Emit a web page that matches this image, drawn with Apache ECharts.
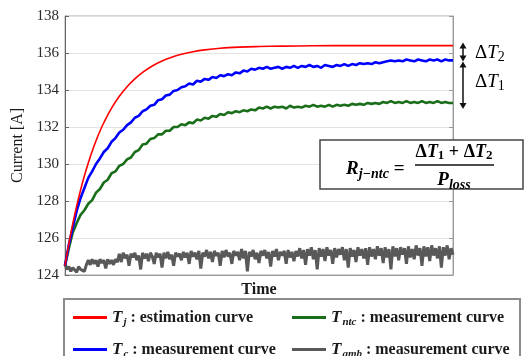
<!DOCTYPE html>
<html><head><meta charset="utf-8">
<script src="https://cdn.jsdelivr.net/npm/echarts@6/dist/echarts.min.js"></script>
<style>html,body{margin:0;padding:0;background:#fff}#c{width:525px;height:356px}</style>
</head><body><div id="c"></div>
<script>
// ---- data ----
const yMin = 124, yMax = 138, yStep = 2;
const timeMax = 1000;
// Tj estimation curve: [time, current]
const tjTime = [0,10,20,30,40,50,60,70,80,90,100,120,140,160,180,200,225,250,275,300,330,360,400,450,500,560,640,750,1000];
const tjValues = [124.5,125.69,126.76,127.72,128.58,129.36,130.06,130.69,131.26,131.77,132.23,133.02,133.66,134.18,134.6,134.95,135.3,135.57,135.77,135.93,136.07,136.17,136.26,136.32,136.35,136.37,136.39,136.4,136.4];
// Tc measurement (uniform samples over time)
const tcValues = [124.5,125.65,126.55,127.45,128.15,128.7,129.25,129.6,130.0,130.3,130.65,130.85,131.2,131.4,131.7,131.85,132.1,132.25,132.5,132.6,132.85,132.95,133.15,133.2,133.45,133.5,133.7,133.75,133.95,134.0,134.15,134.2,134.35,134.3,134.5,134.45,134.6,134.55,134.7,134.65,134.8,134.75,134.85,134.8,134.95,134.9,135.05,135.0,135.15,135.1,135.2,135.15,135.25,135.15,135.2,135.25,135.15,135.25,135.2,135.3,135.2,135.3,135.25,135.35,135.25,135.3,135.2,135.35,135.3,135.25,135.35,135.3,135.4,135.3,135.4,135.35,135.45,135.4,135.45,135.4,135.5,135.45,135.5,135.55,135.6,135.55,135.6,135.55,135.65,135.6,135.55,135.65,135.6,135.55,135.65,135.6,135.65,135.55,135.65,135.6,135.6];
// Tntc measurement
const tntcValues = [124.5,125.45,126.3,126.8,127.25,127.5,127.85,128.05,128.45,128.65,129.0,129.15,129.5,129.6,129.9,130.0,130.25,130.35,130.65,130.75,131.05,131.1,131.35,131.4,131.6,131.6,131.8,131.8,132.0,132.0,132.15,132.1,132.25,132.2,132.4,132.35,132.5,132.45,132.6,132.55,132.7,132.65,132.8,132.75,132.85,132.8,132.9,132.85,132.95,132.9,133.05,133.0,133.1,133.0,133.1,133.05,133.1,133.0,133.15,133.05,133.1,133.05,133.15,133.1,133.2,133.1,133.15,133.1,133.2,133.1,133.2,133.15,133.2,133.15,133.25,133.2,133.25,133.2,133.3,133.25,133.3,133.25,133.35,133.3,133.4,133.3,133.35,133.3,133.4,133.3,133.35,133.3,133.4,133.3,133.35,133.3,133.4,133.3,133.35,133.3,133.3];
// Tamb measurement
const tambValues = [124.6,124.3,124.45,124.2,124.4,124.3,124.15,124.45,124.3,124.4,124.2,124.55,
124.8,124.55,124.85,124.6,124.8,124.45,124.85,124.65,124.8,124.35,124.85,124.6,124.8,124.55,124.85,124.7,
125.15,124.7,125.2,124.9,125.1,124.5,125.15,124.95,125.2,124.8,125.05,124.3,125.2,124.9,125.15,124.75,125.2,125.0,124.6,125.2,124.95,125.15,124.4,125.2,124.9,125.25,124.85,125.1,124.5,125.2,125.0,125.15,124.8,
125.25,124.95,125.2,124.6,125.3,125.0,125.2,124.85,125.3,124.35,125.2,125.0,125.35,124.9,125.25,124.7,125.3,125.05,125.2,124.5,125.3,124.95,125.35,125.0,125.2,124.6,125.3,125.05,125.25,124.8,125.4,124.9,125.3,124.2,125.25,125.0,125.35,124.85,125.2,124.65,125.3,125.05,125.35,124.9,125.25,124.45,125.3,125.0,125.4,124.8,125.25,125.05,125.3,124.6,125.35,124.95,125.25,124.75,125.3,125.0,
125.45,124.9,125.35,124.55,125.4,125.05,125.5,124.85,125.35,124.3,125.45,125.0,125.4,124.75,125.5,125.05,125.35,124.6,125.45,124.95,125.4,125.1,125.5,124.8,125.4,124.4,125.45,125.0,125.35,124.7,125.5,125.05,125.4,124.9,125.45,124.55,125.5,125.0,125.4,124.85,125.55,125.05,125.45,124.65,125.5,124.95,125.4,124.3,125.55,125.0,125.45,124.8,125.5,125.1,125.45,124.6,125.55,124.95,125.4,124.85,125.6,125.05,125.45,124.5,125.55,125.0,125.5,124.75,125.6,125.05,125.45,124.9,125.55,124.4,125.5,125.05,125.6,124.85,125.45,125.1];
const legendSub = {Tj:'j', Tc:'c', Tntc:'ntc', Tamb:'amb'};
const legendDesc = {Tj:' : estimation curve', Tc:' : measurement curve', Tntc:' : measurement curve', Tamb:' : measurement curve'};
const colors = {Tj:'#ff0000', Tc:'#0000ff', Tntc:'#1a6e1a', Tamb:'#595959'};

function uniform(vals){ const st = timeMax/(vals.length-1); return vals.map((v,i)=>[i*st, v]); }
const tjData = tjTime.map((t,i)=>[t, tjValues[i]]);

const SERIF = 'Liberation Serif';
const chart = echarts.init(document.getElementById('c'), null, {renderer:'canvas'});

const richLegend = {
  v:{fontFamily:SERIF, fontStyle:'italic', fontWeight:'bold', fontSize:17, color:'#1a1a1a'},
  s:{fontFamily:SERIF, fontStyle:'italic', fontWeight:'bold', fontSize:11, color:'#1a1a1a', padding:[9,0,0,1]},
  d:{fontFamily:SERIF, fontWeight:'bold', fontSize:16, color:'#1a1a1a'}
};
function mkLegend(name, left, top){
  return {data:[name], left:left, top:top, padding:0, icon:'rect', itemWidth:34, itemHeight:3, itemGap:6,
    formatter: n => '{v|T}{s|' + legendSub[n] + '}{d|' + legendDesc[n] + '}',
    textStyle:{rich:richLegend}, selectedMode:false};
}

chart.setOption({
  animation:false,
  backgroundColor:'#fff',
  grid:{left:65, right:72, top:16, bottom:81, show:true, borderColor:'#a6a6a6', borderWidth:1},
  xAxis:{type:'value', min:0, max:timeMax, name:'Time', nameLocation:'middle', nameGap:7,
    nameTextStyle:{fontFamily:SERIF, fontWeight:'bold', fontSize:16, color:'#1a1a1a', verticalAlign:'top'},
    axisLabel:{show:false}, axisTick:{show:false}, splitLine:{show:false},
    axisLine:{lineStyle:{color:'#9a9a9a'}}},
  yAxis:[{type:'value', min:yMin, max:yMax, interval:yStep, name:'Current [A]', nameLocation:'middle', nameGap:37,
    nameTextStyle:{fontFamily:SERIF, fontSize:16, color:'#1a1a1a'},
    axisLabel:{fontFamily:SERIF, fontSize:15, color:'#2a2a2a', margin:6},
    axisLine:{show:true, lineStyle:{color:'#666'}}, axisTick:{show:true, inside:true, length:4, lineStyle:{color:'#666'}},
    splitLine:{lineStyle:{color:'#e3e3e3'}}},
   {type:'value', min:yMin, max:yMax, interval:yStep, position:'right', axisLabel:{show:false},
    axisLine:{show:true, lineStyle:{color:'#9a9a9a'}}, axisTick:{show:true, inside:true, length:4, lineStyle:{color:'#9a9a9a'}},
    splitLine:{show:false}}],
  legend:[mkLegend('Tj',73,309), mkLegend('Tntc',292,309), mkLegend('Tc',73,341), mkLegend('Tamb',292,341)],
  series:[
    {name:'Tamb', type:'line', data:uniform(tambValues), symbol:'none', lineStyle:{color:colors.Tamb, width:3}, itemStyle:{color:colors.Tamb}, z:2},
    {name:'Tntc', type:'line', data:uniform(tntcValues), symbol:'none', lineStyle:{color:colors.Tntc, width:2.6}, itemStyle:{color:colors.Tntc}, z:3},
    {name:'Tc', type:'line', data:uniform(tcValues), symbol:'none', lineStyle:{color:colors.Tc, width:2.6}, itemStyle:{color:colors.Tc}, z:4},
    {name:'Tj', type:'line', data:tjData, symbol:'none', smooth:0.4, lineStyle:{color:colors.Tj, width:1.6}, itemStyle:{color:colors.Tj}, z:5}
  ]
});

// ---- annotations ----
const yOf = v => chart.convertToPixel({yAxisIndex:0}, v);
const yTj = yOf(tjValues[tjValues.length-1]);
const yTc = yOf(tcValues[tcValues.length-1]);
const yNtc = yOf(tntcValues[tntcValues.length-1]);
const ax = 463;
function dArrow(y1, y2){
  const c = '#111';
  return [
    {type:'line', shape:{x1:ax, y1:y1+3, x2:ax, y2:y2-3}, style:{stroke:c, lineWidth:1.5}},
    {type:'polygon', shape:{points:[[ax, y1-1],[ax-3.5, y1+5],[ax+3.5, y1+5]]}, style:{fill:c}},
    {type:'polygon', shape:{points:[[ax, y2+1],[ax-3.5, y2-5],[ax+3.5, y2-5]]}, style:{fill:c}}
  ];
}
const mathRich = {
  D:{fontFamily:SERIF, fontSize:19, color:'#111'},
  T:{fontFamily:SERIF, fontStyle:'italic', fontSize:19, color:'#111'},
  n:{fontFamily:SERIF, fontSize:14, color:'#111', padding:[9,0,0,0]}
};
const fRich = {
  R:{fontFamily:SERIF, fontStyle:'italic', fontWeight:'bold', fontSize:19, color:'#111'},
  s:{fontFamily:SERIF, fontStyle:'italic', fontWeight:'bold', fontSize:14, color:'#111', padding:[10,0,0,0]},
  e:{fontFamily:SERIF, fontWeight:'bold', fontSize:19, color:'#111'},
  D:{fontFamily:SERIF, fontWeight:'bold', fontSize:18, color:'#111'},
  T:{fontFamily:SERIF, fontStyle:'italic', fontWeight:'bold', fontSize:18, color:'#111'},
  n:{fontFamily:SERIF, fontWeight:'bold', fontSize:13, color:'#111', padding:[8,0,0,0]}
};
const graphics = [].concat(
  dArrow(yTj-2, yTc),
  dArrow(yTc+2, yNtc+5),
  [
    {type:'text', x:475, y:(yTj+yTc)/2, style:{text:'{D|Δ}{T|T}{n|2}', rich:mathRich, verticalAlign:'middle'}},
    {type:'text', x:475, y:(yTc+yNtc)/2, style:{text:'{D|Δ}{T|T}{n|1}', rich:mathRich, verticalAlign:'middle'}},
    {type:'rect', shape:{x:320, y:140, width:203, height:49}, style:{fill:'#fff', stroke:'#444', lineWidth:1.5}, z:10},
    {type:'text', x:346, y:169, z:11, style:{text:'{R|R}{s|j−ntc}{e| =}', rich:fRich, verticalAlign:'middle'}},
    {type:'text', x:454, y:152, z:11, style:{text:'{D|Δ}{T|T}{n|1}{D| + Δ}{T|T}{n|2}', rich:fRich, align:'center', verticalAlign:'middle'}},
    {type:'line', z:11, shape:{x1:415, y1:165, x2:494, y2:165}, style:{stroke:'#111', lineWidth:1.3}},
    {type:'text', x:454, y:180, z:11, style:{text:'{R|P}{s|loss}', rich:fRich, align:'center', verticalAlign:'middle'}},
    {type:'rect', shape:{x:64, y:299, width:456, height:64}, style:{fill:'none', stroke:'#8c8c8c', lineWidth:2}, z:1}
  ]
);
chart.setOption({graphic:graphics});
</script></body></html>
